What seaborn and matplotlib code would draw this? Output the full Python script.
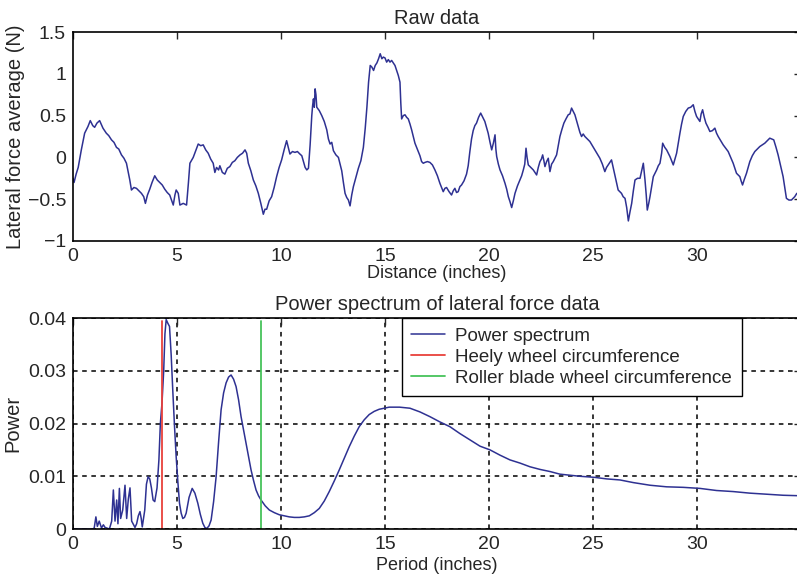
import matplotlib
matplotlib.use('Agg')
import matplotlib.pyplot as plt
import seaborn as sns

# Raw lateral force trace
raw_distance = [0.0, 0.05, 0.15, 0.25, 0.4, 0.56, 0.72, 0.83, 0.95, 1.04, 1.15, 1.28, 1.44, 1.6, 1.72, 1.85, 1.97, 2.09, 2.2, 2.33,
                2.45, 2.57, 2.73, 2.81, 2.93, 3.05, 3.17, 3.29, 3.4, 3.48, 3.58, 3.69, 3.8, 3.93, 4.05, 4.17, 4.29, 4.41, 4.53, 4.65,
                4.75, 4.82, 4.9, 4.96, 5.06, 5.14, 5.3, 5.46, 5.55, 5.62, 5.78, 5.9, 6.02, 6.14, 6.26, 6.38, 6.5, 6.62, 6.74, 6.82,
                6.9, 7.0, 7.06, 7.18, 7.3, 7.42, 7.54, 7.66, 7.78, 7.9, 8.03, 8.15, 8.27, 8.35, 8.43, 8.55, 8.67, 8.79, 8.91, 9.03,
                9.15, 9.23, 9.31, 9.43, 9.55, 9.67, 9.79, 9.91, 10.03, 10.15, 10.27, 10.35, 10.43, 10.55, 10.67, 10.79, 10.91, 11.0, 11.08, 11.16,
                11.24, 11.32, 11.4, 11.48, 11.52, 11.56, 11.6, 11.64, 11.68, 11.72, 11.84, 11.96, 12.08, 12.2, 12.28, 12.36, 12.44, 12.52, 12.64, 12.76,
                12.84, 12.92, 13.0, 13.08, 13.16, 13.24, 13.32, 13.4, 13.48, 13.6, 13.72, 13.84, 13.96, 14.05, 14.13, 14.21, 14.29, 14.37, 14.45, 14.53,
                14.61, 14.69, 14.77, 14.85, 14.92, 15.0, 15.08, 15.16, 15.24, 15.32, 15.4, 15.48, 15.56, 15.64, 15.72, 15.76, 15.8, 15.88, 15.96, 16.04,
                16.12, 16.2, 16.28, 16.36, 16.44, 16.52, 16.6, 16.68, 16.76, 16.84, 16.92, 17.04, 17.16, 17.28, 17.4, 17.52, 17.64, 17.72, 17.8, 17.88,
                17.96, 18.08, 18.2, 18.28, 18.36, 18.44, 18.52, 18.6, 18.68, 18.8, 18.92, 19.0, 19.08, 19.16, 19.24, 19.32, 19.4, 19.5, 19.6, 19.7,
                19.8, 19.88, 19.96, 20.05, 20.13, 20.21, 20.29, 20.33, 20.37, 20.45, 20.53, 20.65, 20.77, 20.85, 20.93, 21.01, 21.09, 21.17, 21.25, 21.37,
                21.49, 21.57, 21.65, 21.72, 21.78, 21.83, 21.89, 22.01, 22.13, 22.21, 22.29, 22.37, 22.45, 22.52, 22.58, 22.64, 22.69, 22.77, 22.85, 22.93,
                23.01, 23.09, 23.17, 23.25, 23.33, 23.41, 23.5, 23.6, 23.7, 23.81, 23.89, 23.97, 24.05, 24.13, 24.21, 24.29, 24.37, 24.45, 24.53, 24.61,
                24.73, 24.85, 24.97, 25.09, 25.21, 25.33, 25.45, 25.57, 25.65, 25.73, 25.81, 25.89, 25.97, 26.05, 26.13, 26.21, 26.29, 26.37, 26.45, 26.54,
                26.62, 26.7, 26.78, 26.86, 26.94, 27.02, 27.14, 27.26, 27.34, 27.42, 27.5, 27.56, 27.61, 27.68, 27.74, 27.82, 27.9, 27.98, 28.06, 28.14,
                28.22, 28.3, 28.35, 28.45, 28.54, 28.62, 28.7, 28.78, 28.86, 28.94, 29.02, 29.1, 29.18, 29.26, 29.34, 29.46, 29.58, 29.7, 29.82, 29.9,
                29.98, 30.06, 30.14, 30.2, 30.27, 30.35, 30.43, 30.53, 30.62, 30.74, 30.86, 30.94, 31.02, 31.14, 31.26, 31.38, 31.5, 31.62, 31.74, 31.82,
                31.9, 31.98, 32.06, 32.12, 32.19, 32.28, 32.38, 32.46, 32.54, 32.66, 32.78, 32.9, 33.02, 33.14, 33.26, 33.38, 33.5, 33.6, 33.69, 33.8,
                33.9, 34.02, 34.14, 34.22, 34.3, 34.42, 34.54, 34.62, 34.7, 34.8, 34.95]
raw_force = [-0.25, -0.30, -0.20, -0.12, 0.09, 0.29, 0.37, 0.44, 0.38, 0.36, 0.41, 0.44, 0.35, 0.29, 0.26, 0.21, 0.18, 0.12, 0.10, 0.03,
             -0.01, -0.07, -0.27, -0.39, -0.36, -0.37, -0.40, -0.43, -0.47, -0.55, -0.45, -0.38, -0.30, -0.22, -0.27, -0.30, -0.33, -0.38, -0.42, -0.45,
             -0.52, -0.57, -0.45, -0.39, -0.43, -0.57, -0.55, -0.57, -0.30, -0.07, 0.00, 0.08, 0.16, 0.14, 0.15, 0.09, 0.05, -0.02, -0.07, -0.18,
             -0.12, -0.15, -0.10, -0.18, -0.20, -0.13, -0.11, -0.06, -0.04, 0.00, 0.03, 0.05, 0.09, 0.05, -0.07, -0.16, -0.27, -0.34, -0.43, -0.55,
             -0.68, -0.62, -0.62, -0.52, -0.47, -0.36, -0.23, -0.12, -0.03, 0.09, 0.20, 0.12, 0.04, 0.07, 0.06, 0.07, 0.04, 0.02, -0.05, -0.12,
             -0.15, -0.13, 0.15, 0.50, 0.62, 0.70, 0.60, 0.82, 0.75, 0.60, 0.56, 0.50, 0.43, 0.33, 0.22, 0.16, 0.18, 0.08, 0.03, 0.00,
             -0.08, -0.16, -0.30, -0.43, -0.48, -0.51, -0.58, -0.45, -0.35, -0.24, -0.13, -0.04, 0.12, 0.35, 0.60, 0.90, 1.10, 1.08, 1.04, 1.10,
             1.13, 1.18, 1.24, 1.18, 1.20, 1.19, 1.14, 1.17, 1.14, 1.16, 1.13, 1.10, 1.04, 0.98, 0.90, 0.65, 0.46, 0.50, 0.51, 0.48,
             0.46, 0.40, 0.33, 0.25, 0.17, 0.12, 0.07, 0.02, -0.05, -0.07, -0.06, -0.05, -0.06, -0.09, -0.15, -0.22, -0.31, -0.36, -0.41, -0.37,
             -0.36, -0.41, -0.45, -0.40, -0.37, -0.42, -0.41, -0.35, -0.33, -0.28, -0.20, -0.10, 0.07, 0.22, 0.32, 0.38, 0.41, 0.48, 0.53, 0.48,
             0.43, 0.36, 0.29, 0.18, 0.09, 0.17, 0.27, 0.10, 0.01, -0.08, -0.15, -0.22, -0.31, -0.38, -0.47, -0.53, -0.60, -0.52, -0.43, -0.34,
             -0.27, -0.22, -0.15, -0.08, 0.11, 0.00, -0.09, -0.12, -0.15, -0.18, -0.21, -0.12, -0.05, -0.02, 0.03, -0.04, -0.11, -0.05, -0.01, -0.17,
             -0.08, -0.05, -0.01, 0.03, 0.14, 0.25, 0.33, 0.41, 0.46, 0.51, 0.52, 0.59, 0.55, 0.51, 0.44, 0.37, 0.30, 0.25, 0.28, 0.25,
             0.22, 0.19, 0.14, 0.09, 0.04, -0.01, -0.08, -0.17, -0.12, -0.09, -0.06, -0.03, -0.12, -0.21, -0.30, -0.39, -0.41, -0.43, -0.47, -0.49,
             -0.60, -0.76, -0.65, -0.55, -0.40, -0.27, -0.25, -0.25, -0.16, -0.07, -0.27, -0.45, -0.63, -0.55, -0.47, -0.35, -0.23, -0.19, -0.15, -0.10,
             -0.07, 0.05, 0.17, 0.12, 0.09, 0.05, 0.01, -0.04, -0.09, -0.02, 0.05, 0.17, 0.29, 0.40, 0.49, 0.55, 0.59, 0.60, 0.63, 0.55,
             0.49, 0.46, 0.43, 0.52, 0.57, 0.48, 0.41, 0.36, 0.31, 0.32, 0.35, 0.29, 0.25, 0.20, 0.15, 0.11, 0.07, 0.00, -0.07, -0.13,
             -0.19, -0.21, -0.23, -0.28, -0.33, -0.26, -0.19, -0.12, -0.05, 0.02, 0.07, 0.10, 0.13, 0.15, 0.17, 0.20, 0.23, 0.22, 0.21, 0.12,
             0.03, -0.10, -0.23, -0.36, -0.49, -0.51, -0.51, -0.49, -0.47, -0.43, -0.46]

# Power spectrum versus period
period = [0.0, 0.96, 1.02, 1.1, 1.17, 1.26, 1.37, 1.46, 1.54, 1.75, 1.86, 1.94, 2.02, 2.1, 2.16, 2.23, 2.29, 2.39, 2.5, 2.58,
          2.66, 2.74, 2.82, 2.98, 3.06, 3.14, 3.22, 3.28, 3.33, 3.45, 3.53, 3.61, 3.69, 3.77, 3.85, 3.93, 4.04, 4.13, 4.2, 4.28,
          4.36, 4.42, 4.48, 4.56, 4.64, 4.72, 4.8, 4.88, 4.96, 5.04, 5.12, 5.2, 5.28, 5.36, 5.44, 5.58, 5.73, 5.86, 6.0, 6.12,
          6.24, 6.34, 6.43, 6.54, 6.64, 6.76, 6.88, 7.0, 7.12, 7.24, 7.36, 7.48, 7.6, 7.72, 7.84, 7.96, 8.08, 8.2, 8.32, 8.44,
          8.56, 8.68, 8.8, 8.92, 9.04, 9.24, 9.44, 9.68, 9.92, 10.16, 10.4, 10.64, 10.88, 11.12, 11.36, 11.6, 11.84, 12.08, 12.32, 12.56,
          12.8, 13.04, 13.28, 13.52, 13.76, 14.0, 14.24, 14.48, 14.72, 15.2, 15.7, 16.2, 16.68, 17.16, 17.64, 18.12, 18.6, 19.09, 19.57, 20.05,
          20.53, 21.01, 21.49, 21.97, 22.45, 22.93, 23.41, 23.89, 24.37, 25.06, 25.66, 26.3, 26.94, 27.74, 28.54, 29.34, 30.14, 30.94, 31.74, 32.54,
          33.34, 34.14, 35.0]
power = [0.0, 0.0, 0.0002, 0.0023, 0.0005, 0.0015, 0.0002, 0.0008, 0.0003, 0.0, 0.0015, 0.0074, 0.0015, 0.0055, 0.0010, 0.0077, 0.0020, 0.0036, 0.0083, 0.0020,
         0.0057, 0.0078, 0.0015, 0.0003, 0.0010, 0.0025, 0.0033, 0.0020, 0.0004, 0.0036, 0.0085, 0.0099, 0.0095, 0.0078, 0.0055, 0.0052, 0.0078, 0.0131, 0.0200, 0.0240,
         0.0300, 0.0370, 0.0397, 0.0390, 0.0384, 0.0330, 0.0260, 0.0195, 0.0137, 0.0090, 0.0049, 0.0030, 0.0020, 0.0022, 0.0030, 0.0060, 0.0077, 0.0068, 0.0049, 0.0028,
         0.0011, 0.0003, 0.0001, 0.0006, 0.0017, 0.0052, 0.0099, 0.0165, 0.0226, 0.0258, 0.0277, 0.0288, 0.0292, 0.0284, 0.0270, 0.0245, 0.0213, 0.0188, 0.0163, 0.0137,
         0.0112, 0.0092, 0.0074, 0.0063, 0.0055, 0.0044, 0.0036, 0.0031, 0.0027, 0.0025, 0.0023, 0.0022, 0.0022, 0.0023, 0.0025, 0.0031, 0.0039, 0.0053, 0.0071, 0.0091,
         0.0112, 0.0134, 0.0156, 0.0176, 0.0194, 0.0207, 0.0217, 0.0223, 0.0227, 0.0231, 0.0231, 0.0229, 0.0222, 0.0213, 0.0203, 0.0194, 0.0181, 0.0169, 0.0157, 0.0150,
         0.0140, 0.0131, 0.0125, 0.0118, 0.0113, 0.0109, 0.0104, 0.0102, 0.0100, 0.0098, 0.0095, 0.0093, 0.0088, 0.0083, 0.0080, 0.0079, 0.0077, 0.0073, 0.0071, 0.0068,
         0.0066, 0.0064, 0.0063]

# wheel circumferences (inches) and marker height
heely_circ = 4.3
roller_circ = 9.05
marker_top = 0.0395

x_ticks = [0, 5, 10, 15, 20, 25, 30]
x_tick_labels = ['0', '5', '10', '15', '20', '25', '30']
raw_ticks = [-1, -0.5, 0, 0.5, 1, 1.5]
raw_tick_labels = ['\u22121', '\u22120.5', '0', '0.5', '1', '1.5']
power_ticks = [0, 0.01, 0.02, 0.03, 0.04]
power_tick_labels = ['0', '0.01', '0.02', '0.03', '0.04']

sns.set_style('white')
plt.rcParams['font.family'] = ['Liberation Sans', 'DejaVu Sans']

blue = '#2e3192'
red = '#e8413c'
green = '#46c35a'

fig = plt.figure(figsize=(7.97, 5.8), dpi=100)
# axes run a little past the right edge, like the cropped original
ax1 = fig.add_axes([0.0916, 0.5845, 0.9134, 0.3603])
ax2 = fig.add_axes([0.0916, 0.0879, 0.9134, 0.3638])

# Top: raw data
sns.lineplot(x=raw_distance, y=raw_force, ax=ax1, color=blue, linewidth=1.1,
             estimator=None, sort=False)
ax1.set_xlim(0, 35)
ax1.set_ylim(-1, 1.5)
ax1.set_yticks(raw_ticks, raw_tick_labels)
ax1.set_title('Raw data', fontsize=14.5, pad=6)
ax1.set_xlabel('Distance (inches)', fontsize=13, labelpad=0)
ax1.set_ylabel('Lateral force average (N)', fontsize=14.5, labelpad=2)

# Bottom: power spectrum
sns.lineplot(x=period, y=power, ax=ax2, color=blue, linewidth=1.1,
             estimator=None, sort=False, label='Power spectrum')
ax2.plot([heely_circ, heely_circ], [0, marker_top], color=red, linewidth=1.3,
         label='Heely wheel circumference')
ax2.plot([roller_circ, roller_circ], [0, marker_top], color=green, linewidth=1.3,
         label='Roller blade wheel circumference')
ax2.set_xlim(0, 35)
ax2.set_ylim(0, 0.04)
ax2.set_yticks(power_ticks, power_tick_labels)
ax2.grid(True, color='black', linestyle=(0, (3, 3)), linewidth=1.1)
ax2.set_title('Power spectrum of lateral force data', fontsize=14.5, pad=6)
ax2.set_xlabel('Period (inches)', fontsize=13, labelpad=3)
ax2.set_ylabel('Power', fontsize=14.5, labelpad=4)
leg = ax2.legend(loc='upper left', bbox_to_anchor=(0.452, 1.0), borderaxespad=0,
                 fontsize=13.5, frameon=True, fancybox=False, framealpha=1,
                 edgecolor='black', handlelength=1.8, handletextpad=0.55,
                 labelspacing=0.22, borderpad=0.5)
leg.get_frame().set_linewidth(1.0)

for ax in (ax1, ax2):
    ax.set_xticks(x_ticks, x_tick_labels)
    ax.tick_params(direction='in', length=5, width=1.0, labelsize=14,
                   top=True, right=True, pad=5)
    for s in ax.spines.values():
        s.set_visible(True)
        s.set_color('black')
        s.set_linewidth(1.2)

fig.savefig('out.png', dpi=100)
